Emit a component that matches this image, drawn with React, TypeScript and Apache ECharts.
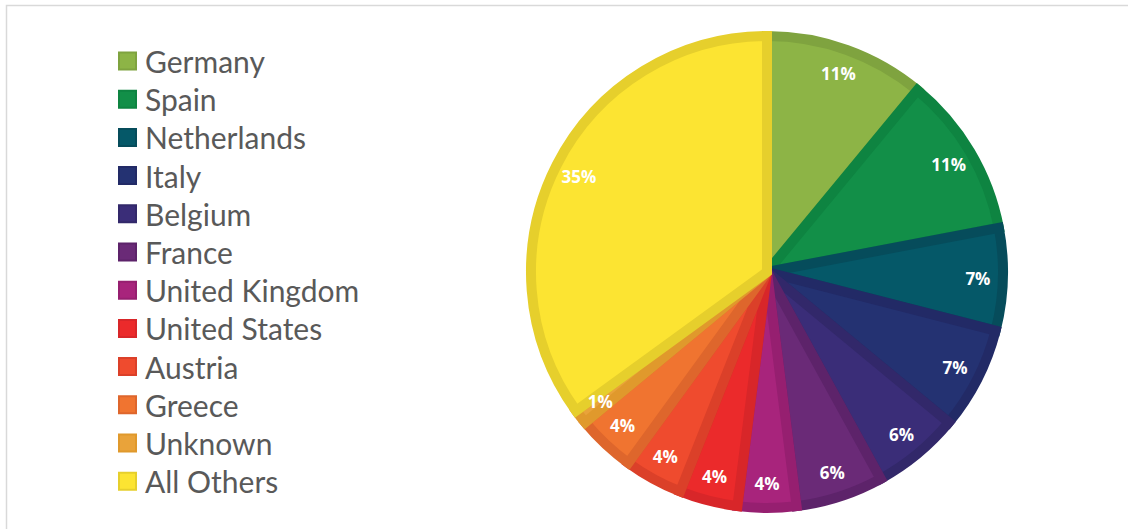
import React, { useEffect, useRef } from "react";
import * as echarts from "echarts";

const categories = [
  "Germany",
  "Spain",
  "Netherlands",
  "Italy",
  "Belgium",
  "France",
  "United Kingdom",
  "United States",
  "Austria",
  "Greece",
  "Unknown",
  "All Others",
];
const shares = [11, 11, 7, 7, 6, 6, 4, 4, 4, 4, 1, 35];

const fillColors = [
  "#8DB446", "#128F48", "#055868", "#243272", "#3A2D78", "#6A2A77",
  "#A8247C", "#EB2A2B", "#EF4B2E", "#F07430", "#E9A33A", "#FCE432",
];
const borderColors = [
  "#7FA33F", "#0E8441", "#064C5B", "#222A66", "#32286A", "#5D236A",
  "#961F70", "#D82629", "#DB4029", "#DE662C", "#E0992C", "#E6CF2C",
];

export default function App() {
  const ref = useRef<HTMLDivElement>(null);
  useEffect(() => {
    document.body.style.margin = "0";
    const chart = echarts.init(ref.current!, null, { renderer: "svg" });
    const cx = 767;
    const cy = 272;
    const R = 241;
    chart.setOption({
      animation: false,
      backgroundColor: "#ffffff",
      graphic: [
        {
          type: "rect",
          shape: { x: 6.5, y: 5.5, width: 1300, height: 700 },
          style: { fill: "none", stroke: "#d9d9d9", lineWidth: 1.5 },
          silent: true,
        },
      ],
      legend: {
        orient: "vertical",
        left: 113,
        top: 41,
        height: 480,
        itemWidth: 17,
        itemHeight: 17,
        itemGap: 8.2,
        icon: "rect",
        selectedMode: false,
        textStyle: {
          fontFamily: "Lato",
          fontSize: 30,
          color: "#595959",
          padding: [0, 0, 0, 4],
        },
        data: categories.map((name, i) => ({
          name,
          itemStyle: { color: fillColors[i] },
        })),
      },
      series: [
        {
          type: "pie",
          center: [cx, cy],
          radius: [0, R - 5],
          startAngle: 90,
          clockwise: true,
          silent: true,
          label: { show: false },
          labelLine: { show: false },
          data: categories.map((name, i) => ({
            name,
            value: shares[i],
            itemStyle: {
              color: fillColors[i],
              borderColor: borderColors[i],
              borderWidth: 10,
              borderJoin: "miter",
            },
          })),
        },
        {
          type: "pie",
          center: [cx, cy],
          radius: [R - 66, R],
          startAngle: 90,
          clockwise: true,
          silent: true,
          itemStyle: { color: "rgba(0,0,0,0)" },
          label: {
            show: true,
            position: "inside",
            color: "#ffffff",
            fontFamily: "Open Sans",
            fontWeight: "bold",
            fontSize: 17,
            formatter: (p: any) => shares[p.dataIndex] + "%",
          },
          labelLine: { show: false },
          data: categories.map((name, i) => ({ name, value: shares[i] })),
        },
      ],
    });
    return () => chart.dispose();
  }, []);
  return (
    <div
      ref={ref}
      style={{ position: "fixed", left: 0, top: 0, width: 1128, height: 529 }}
    />
  );
}
